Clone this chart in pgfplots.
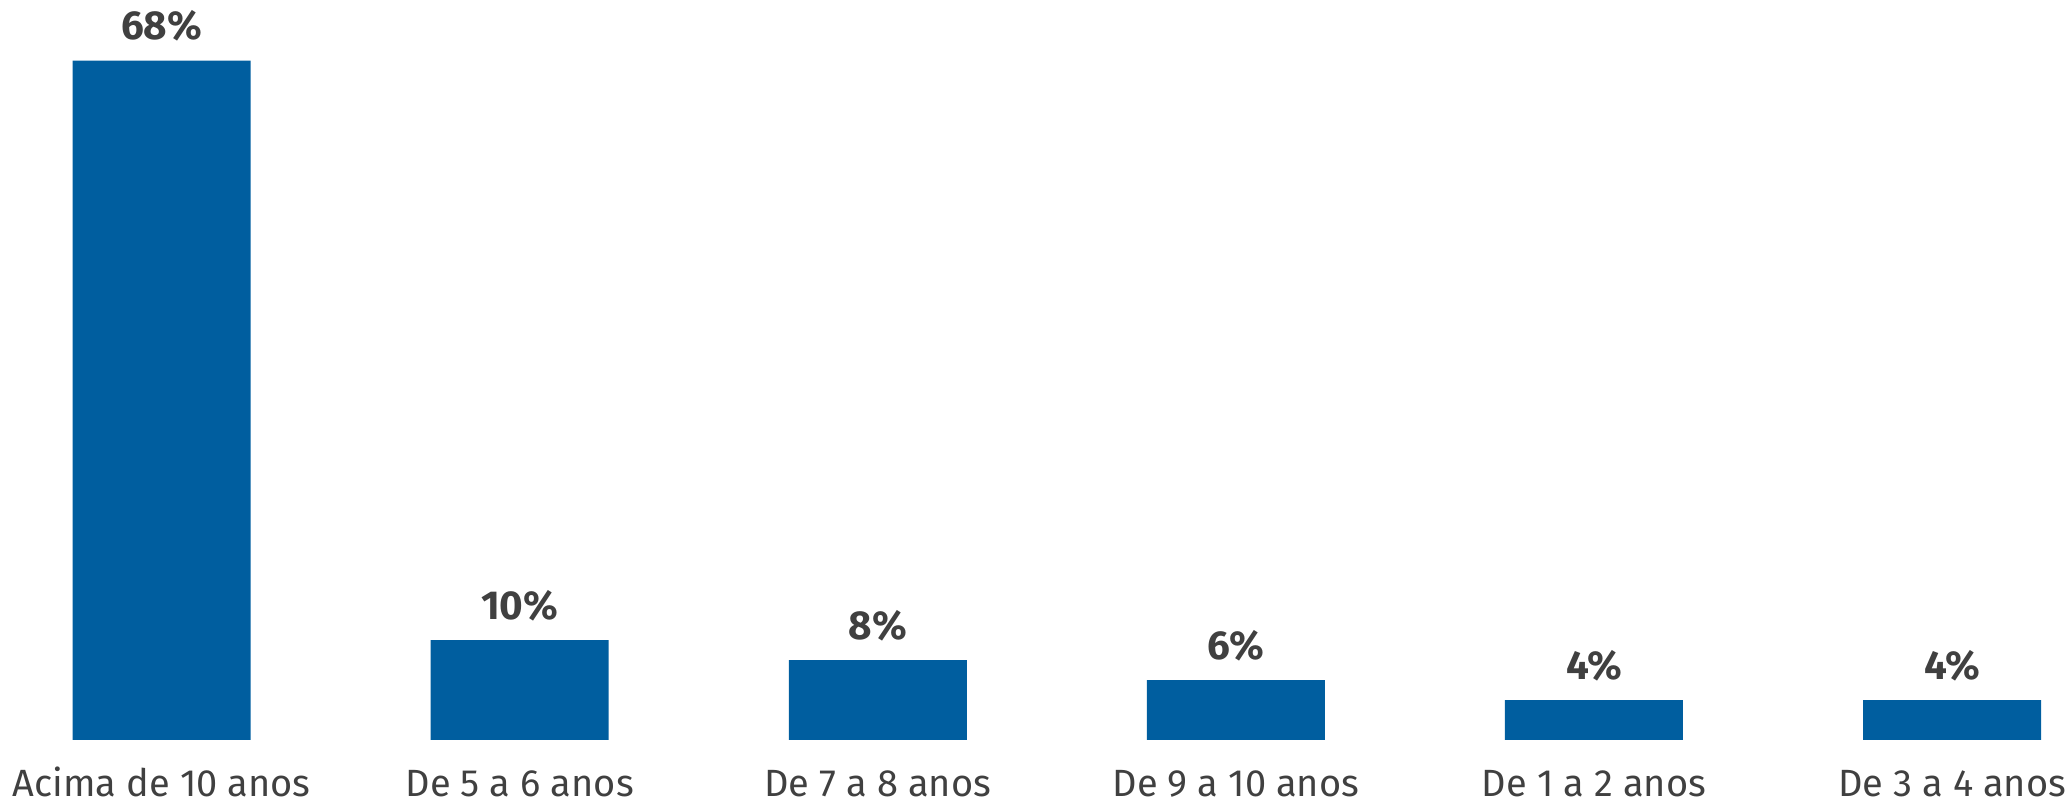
\documentclass[border=0pt]{standalone}
\usepackage{fontspec}
\setmainfont{Fira Sans}[Numbers=Lining]
\usepackage{pgfplots}
\pgfplotsset{compat=1.18}
\definecolor{barblue}{RGB}{0,94,159}
\definecolor{txtgray}{RGB}{64,64,64}
\begin{document}
\begin{tikzpicture}
\begin{axis}[
    scale only axis,
    width=20.69cm, height=7.40cm,
    xmin=-0.4514, xmax=5.3266,
    ymin=0, ymax=74.07,
    hide y axis,
    axis x line*=bottom,
    x axis line style={draw=none},
    major tick length=0pt,
    ybar, bar width=1.78cm,
    xtick=data,
    xticklabels={Acima de 10 anos, De 5 a 6 anos, De 7 a 8 anos, De 9 a 10 anos, De 1 a 2 anos, De 3 a 4 anos},
    xticklabel style={anchor=base, yshift=-0.57cm, font=\fontsize{10.8}{12}\selectfont, text=txtgray},
    nodes near coords={\pgfmathprintnumber{\pgfplotspointmeta}\%},
    every node near coord/.append style={anchor=base, yshift=0.21cm, font=\bfseries\fontsize{11.5}{13}\selectfont, text=txtgray},
    /pgf/number format/assume math mode=true,
]
\addplot[fill=barblue, draw=none] coordinates {(0,68) (1,10) (2,8) (3,6) (4,4) (5,4)};
\end{axis}
\pgfresetboundingbox
\path ([yshift=-0.64cm]current axis.south west) rectangle (current axis.north east);
\end{tikzpicture}
\end{document}
